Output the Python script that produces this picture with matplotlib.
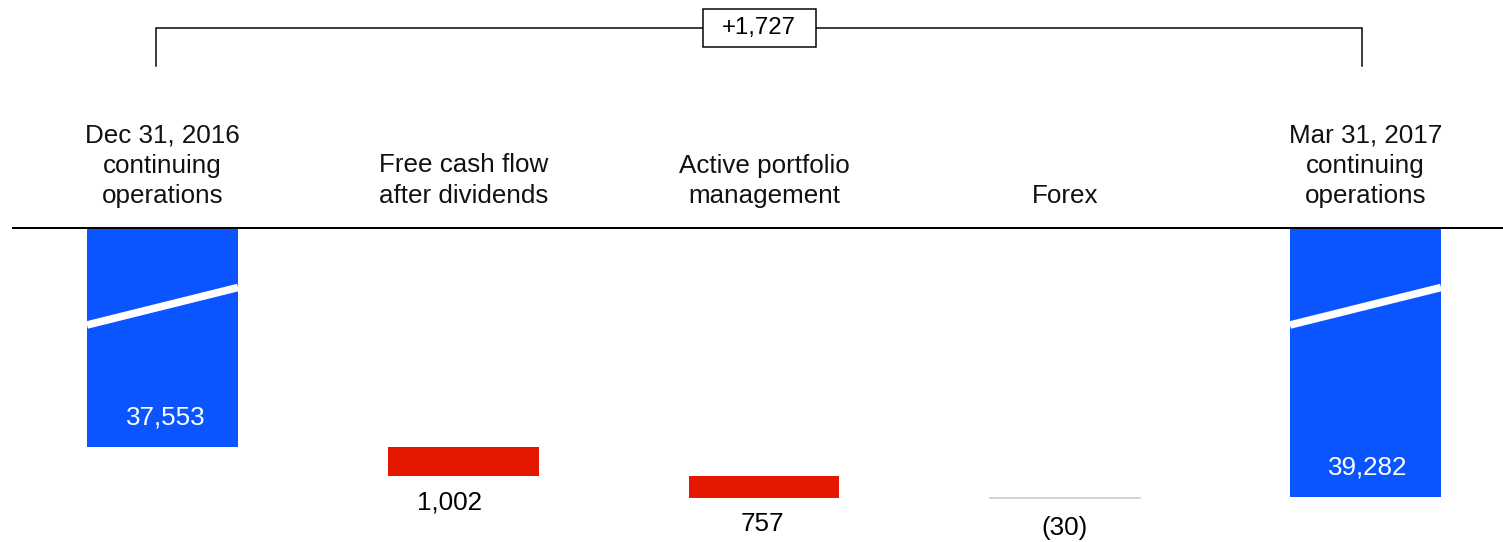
import matplotlib
matplotlib.use("Agg")
import matplotlib.pyplot as plt
from matplotlib.patches import Rectangle

# ---------------- data ----------------
categories = [
    "Dec 31, 2016\ncontinuing\noperations",
    "Free cash flow\nafter dividends",
    "Active portfolio\nmanagement",
    "Forex",
    "Mar 31, 2017\ncontinuing\noperations",
]
start_value = 37553
changes = [1002, 757, -30]
end_value = 39282
value_labels = ["37,553", "1,002", "757", "(30)", "39,282"]
total_change_label = "+1,727"

# ---------------- style ----------------
BLUE = "#0A55FF"
RED = "#E61700"
GRAY = "#C8C8C8"
FONT = "Liberation Sans"
plt.rcParams["font.family"] = [FONT, "DejaVu Sans"]

DPI = 72                 # 1 pt == 1 px
W, H = 1503, 542
BASE_PX = 228            # baseline position from top (px)
CUT = 30000              # axis break: bars start at this value
PX_PER_UNIT = 0.029      # vertical scale
STEP = 300.75            # px between category centres
X0 = 162.5               # px of first category centre
BAR_W = 0.502
# label placement tweaks (px): x shift, y offset below bar
LABEL_DX = [3, -14, -2, 0, 2]
LABEL_DY = [0, 26, 26, 30, 0]


def px(p):
    """pixels -> y data units"""
    return p / PX_PER_UNIT


def pxx(p):
    """pixels -> x data units"""
    return p / STEP


fig = plt.figure(figsize=(W / DPI, H / DPI), dpi=DPI)
ax = fig.add_axes([0, 0, 1, 1])
ax.set_axis_off()
ax.set_xlim(-X0 / STEP, (W - X0) / STEP)
ax.set_ylim((H - BASE_PX) / PX_PER_UNIT, -BASE_PX / PX_PER_UNIT)

n = len(categories)
last = n - 1

# start / end bars
for i, val in ((0, start_value), (last, end_value)):
    ax.bar(i, val - CUT, bottom=0, width=BAR_W, color=BLUE, zorder=2)
    # break mark
    ax.plot([i - BAR_W / 2, i + BAR_W / 2], [px(97), px(59.5)], color="white",
            lw=7.6, solid_capstyle="butt", zorder=3)
    ax.text(i + pxx(LABEL_DX[i]), val - CUT - px(30), value_labels[i],
            ha="center", va="center", color="white", fontsize=26)

# change bars
cum = start_value
for k, ch in enumerate(changes):
    i = k + 1
    col = RED if ch > 0 else GRAY
    ax.bar(i, ch, bottom=cum - CUT, width=BAR_W, color=col,
           edgecolor=col, lw=0.6 if ch < 0 else 0, zorder=2)
    low = max(cum, cum + ch) - CUT
    ax.text(i + pxx(LABEL_DX[i]), low + px(LABEL_DY[i]), value_labels[i],
            ha="center", va="center", color="black", fontsize=26)
    cum += ch

# baseline
ax.plot([-0.5, ax.get_xlim()[1]], [0, 0], color="black", lw=2, zorder=4,
        solid_capstyle="butt")

# category labels (bottom-aligned)
for i, lab in enumerate(categories):
    lines = lab.split("\n")
    for k, line in enumerate(reversed(lines)):
        ax.text(i, -px(BASE_PX - 203) - k * px(30.5), line, ha="center",
                va="baseline", fontsize=26, color="#111111")

# bracket for total change
xl = 0 - pxx(6.5)
xr = last - pxx(3.5)
y_top = -px(BASE_PX - 28)
y_leg = -px(BASE_PX - 66)
ax.plot([xl, xl, xr, xr], [y_leg, y_top, y_top, y_leg], color="black", lw=1.5,
        solid_joinstyle="miter", zorder=2)
xm = (xl + xr) / 2
bw, bh = pxx(113), px(38)
ax.add_patch(Rectangle((xm - bw / 2, y_top - bh / 2), bw, bh, facecolor="white",
                       edgecolor="black", lw=1.5, zorder=3))
ax.text(xm, y_top, total_change_label, ha="center", va="center", fontsize=24,
        zorder=4)

fig.savefig("out.png", dpi=DPI, facecolor="white")
